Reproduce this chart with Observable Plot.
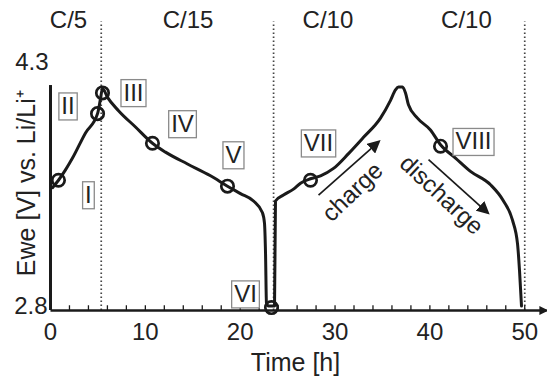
<!DOCTYPE html>
<html><head><meta charset="utf-8">
<script src="https://cdn.jsdelivr.net/npm/d3@7"></script>
<script src="https://cdn.jsdelivr.net/npm/@observablehq/plot@0.6"></script>
<style>
body{margin:0;background:#fff;}
#chart svg{display:block;}
</style>
</head><body><div id="chart"></div>
<script>
// Galvanostatic profile: time [h] vs. Ewe [V]
const time = [0.21,0.84,1.58,2.32,3.69,4.96,5.27,5.48,6.01,7.17,8.96,10.75,12.12,14.44,16.87,18.66,20.03,21.40,22.35,22.56,22.67,22.77,22.98,23.62,23.72,24.56,25.62,26.36,27.41,28.47,29.84,31.42,33.0,34.79,35.85,36.37,36.69,37.11,37.43,37.74,38.69,40.06,41.12,42.70,44.28,46.39,47.76,48.71,49.24,49.45,49.66];
const voltage = [3.63,3.68,3.75,3.83,4.00,4.13,4.23,4.30,4.24,4.15,4.04,3.93,3.87,3.79,3.71,3.64,3.59,3.54,3.46,3.39,3.19,2.85,2.83,2.83,3.54,3.58,3.62,3.66,3.69,3.71,3.76,3.86,3.97,4.10,4.22,4.29,4.31,4.31,4.27,4.19,4.10,4.02,3.92,3.83,3.74,3.65,3.54,3.41,3.25,3.07,2.83];

// Marked states
const markerNames = ["I","II","III","IV","V","VI","VII","VIII"];
const markerTime = [0.84,4.96,5.48,10.75,18.66,23.30,27.41,41.12];
const markerVolt = [3.68,4.13,4.27,3.93,3.64,2.82,3.68,3.91];
// Label box anchors (data units)
const labelTime = [4.0,1.85,8.75,13.92,19.29,20.56,28.26,44.6];
const labelVolt = [3.58,4.18,4.27,4.06,3.85,2.91,3.93,3.94];

// C-rate segments
const rateLabels = ["C/5","C/15","C/10","C/10"];
const rateTime = [1.9,14.5,29.25,43.85];
const dividerTime = [5.35,23.52,50];

// Axis ticks
const xTickLabels = [0,10,20,30,40,50];
const xMinorTicks = [2,4,6,8,12,14,16,18,22,24,26,28,32,34,36,38,42,44,46,48];
const yTickLabels = [2.8,4.3];

// Annotation arrows
const arrowNames = ["charge","discharge"];
const arrowStartT = [28.26,39.86], arrowStartV = [3.58,3.82];
const arrowEndT = [34.6,46.1], arrowEndV = [3.94,3.46];
const arrowTextT = [31.84,41.22], arrowTextV = [3.60,3.58];

const curve = time.map((t,i)=>({t, v: voltage[i]}));
const markers = markerNames.map((n,i)=>({n, t: markerTime[i], v: markerVolt[i]}));
const labels = markerNames.map((n,i)=>({n, t: labelTime[i], v: labelVolt[i]}));
const rates = rateLabels.map((n,i)=>({n, t: rateTime[i]}));
const arrows = arrowNames.map((n,i)=>({n, t1: arrowStartT[i], v1: arrowStartV[i], t2: arrowEndT[i], v2: arrowEndV[i], tt: arrowTextT[i], tv: arrowTextV[i]}));

const ink = "#1a1a1a";
const textInk = "#222";
const font = '"Liberation Sans", Arial, Helvetica, sans-serif';

const chart = Plot.plot({
  width: 547, height: 377,
  marginLeft: 50, marginRight: 0, marginTop: 14, marginBottom: 67,
  x: {domain: [0, 52.4], axis: null},
  y: {domain: [2.8, 4.8], axis: null},
  style: {fontFamily: font, background: "white", color: ink},
  marks: [
    Plot.ruleX(dividerTime, {y1: 2.8, y2: 4.75, stroke: "#444", strokeWidth: 1.7, strokeDasharray: "1.4,2.6"}),
    Plot.ruleX(xMinorTicks.concat(xTickLabels), {y1: 2.8, y2: 2.832, stroke: ink, strokeWidth: 1.3}),
    Plot.ruleX([0], {y1: 2.8, y2: 4.32, stroke: ink, strokeWidth: 3}),
    Plot.link([0], {x1: 0, x2: 52.3, y1: 2.8, y2: 2.8, stroke: ink, strokeWidth: 2.5}),
    Plot.line(curve, {x: "t", y: "v", stroke: ink, strokeWidth: 3, curve: "monotone-x"}),
    Plot.dot(markers, {x: "t", y: "v", r: 6.2, stroke: ink, strokeWidth: 2.7, fill: "none"}),
    Plot.text(labels, {x: "t", y: "v", text: "n", fontSize: 24, fill: textInk}),
    Plot.text(rates, {x: "t", y: 4.762, text: "n", fontSize: 24, fill: textInk}),
    Plot.text(xTickLabels, {x: d => d, y: 2.8, dy: 22, text: d => String(d), fontSize: 24, fill: textInk}),
    Plot.text([yTickLabels[0]], {x: 0, y: d => d, dx: -3, dy: -4, textAnchor: "end", text: d => d.toFixed(1), fontSize: 24, fill: textInk}),
    Plot.text([yTickLabels[1]], {x: 0, y: d => d, dx: -2, dy: -26, textAnchor: "end", text: d => d.toFixed(1), fontSize: 24, fill: textInk}),
    Plot.text(["Time [h]"], {x: 25.83, y: 2.8, dy: 52, fontSize: 25, fill: textInk}),
    Plot.text(["Ewe [V] vs. Li/Li\u207A"], {x: 0, y: 3.66, dx: -24, rotate: -90, fontSize: 25, fill: textInk}),
    Plot.link(arrows, {x1: "t1", y1: "v1", x2: "t2", y2: "v2", stroke: ink, strokeWidth: 1.7}),
    Plot.text([arrows[0]], {x: "tt", y: "tv", text: "n", rotate: -44, fontSize: 24, fill: textInk}),
    Plot.text([arrows[1]], {x: "tt", y: "tv", text: "n", rotate: 43, fontSize: 24, fill: textInk})
  ]
});
document.getElementById("chart").appendChild(chart);

// Filled arrowheads and boxes around roman numeral labels
const svgNS = "http://www.w3.org/2000/svg";
const defs = document.createElementNS(svgNS, "defs");
function addMarker(id, size) {
  const marker = document.createElementNS(svgNS, "marker");
  marker.setAttribute("id", id);
  marker.setAttribute("viewBox", "0 0 10 10");
  marker.setAttribute("refX", "8");
  marker.setAttribute("refY", "5");
  marker.setAttribute("markerWidth", size);
  marker.setAttribute("markerHeight", size);
  marker.setAttribute("markerUnits", "userSpaceOnUse");
  marker.setAttribute("orient", "auto");
  const mp = document.createElementNS(svgNS, "path");
  mp.setAttribute("d", "M0,0L10,5L0,10Z");
  mp.setAttribute("fill", ink);
  marker.appendChild(mp); defs.appendChild(marker);
}
addMarker("ahead", 13);
addMarker("axhead", 9);
chart.insertBefore(defs, chart.firstChild);

const linkGroups = chart.querySelectorAll('g[aria-label="link"]');
linkGroups.forEach((g, gi) => {
  g.querySelectorAll("path, line").forEach(p => {
    p.setAttribute("marker-end", gi === 0 ? "url(#axhead)" : "url(#ahead)");
  });
});

const romanSet = new Set(markerNames);
chart.querySelectorAll("text").forEach(t => {
  if (!romanSet.has(t.textContent)) return;
  const b = t.getBBox();
  const r = document.createElementNS(svgNS, "rect");
  r.setAttribute("x", b.x - 2.5);
  r.setAttribute("y", b.y + 1);
  r.setAttribute("width", b.width + 5);
  r.setAttribute("height", b.height);
  r.setAttribute("fill", "white");
  r.setAttribute("stroke", "#8a8a8a");
  r.setAttribute("stroke-width", "1.3");
  const tr = t.getAttribute("transform");
  if (tr) r.setAttribute("transform", tr);
  t.parentNode.insertBefore(r, t);
});
</script>
</body></html>
